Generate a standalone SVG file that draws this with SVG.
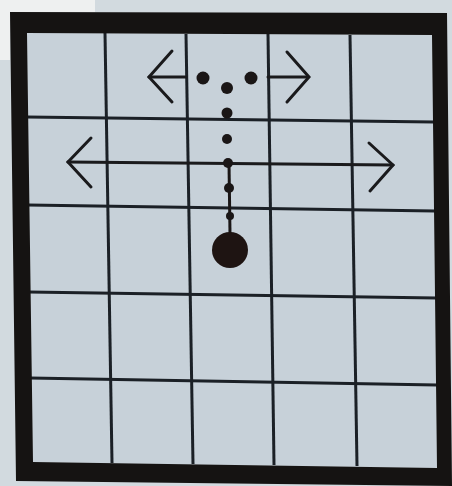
<svg xmlns="http://www.w3.org/2000/svg" width="452" height="486" viewBox="0 0 452 486">
  <style>
    .grid { stroke: #1b2026; stroke-width: 3; stroke-linecap: butt; fill: none; }
    .arrow { stroke: #1a1a1c; stroke-width: 3; fill: none; stroke-linecap: round; stroke-linejoin: miter; }
    .dot { fill: #1a1616; }
    .stem { stroke: #1a1616; stroke-width: 3; fill: none; }
  </style>
  <g id="background">
    <rect x="0" y="0" width="452" height="486" fill="#d2dadf"/>
    <path d="M0,0 H95 V12 H10 V60 H0 Z" fill="#eef0f0"/>
  </g>
  <g id="board">
    <polygon points="27,33 432,35 437,468 33,462" fill="#c7d1d9"/>
  </g>
  <g id="grid-lines" class="grid">
    <line x1="105" y1="33" x2="112" y2="463"/>
    <line x1="186" y1="34" x2="193" y2="464"/>
    <line x1="268" y1="34" x2="274" y2="465"/>
    <line x1="350" y1="35" x2="357" y2="466"/>
    <line x1="27" y1="117" x2="434" y2="122"/>
    <line x1="28" y1="205" x2="435" y2="211"/>
    <line x1="29" y1="292" x2="436" y2="298"/>
    <line x1="30" y1="378" x2="437" y2="385"/>
  </g>
  <g id="border">
    <path fill-rule="evenodd" fill="#151312" d="M10,12 L447,13 L452,486 L16,481 Z M27,33 L432,35 L437,468 L33,462 Z"/>
  </g>
  <g id="connectors">
    <g id="arrow-top-left" class="arrow">
      <line x1="149" y1="77" x2="186" y2="77"/>
      <polyline points="172,51 149,77 172,102"/>
    </g>
    <g id="arrow-top-right" class="arrow">
      <line x1="268" y1="77" x2="308" y2="77"/>
      <polyline points="287,52 309,77 287,102"/>
    </g>
    <g id="arrow-middle" class="arrow">
      <line x1="68" y1="162" x2="393" y2="165"/>
      <polyline points="91,138 68,162 91,187"/>
      <polyline points="369,143 393,165 370,191"/>
    </g>
    <line id="stem" class="stem" x1="229" y1="163" x2="230" y2="234"/>
  </g>
  <g id="dots">
    <circle id="dot-top-left" class="dot" cx="203" cy="78" r="6.5"/>
    <circle id="dot-top-right" class="dot" cx="251" cy="78" r="6.5"/>
    <circle id="dot-1" class="dot" cx="227" cy="88" r="6"/>
    <circle id="dot-2" class="dot" cx="227" cy="113" r="5.5"/>
    <circle id="dot-3" class="dot" cx="227" cy="139" r="5"/>
    <circle id="dot-4" class="dot" cx="228" cy="163" r="5"/>
    <circle id="dot-5" class="dot" cx="229" cy="188" r="5"/>
    <circle id="dot-6" class="dot" cx="230" cy="216" r="4"/>
    <circle id="dot-big" cx="230" cy="250" r="18" fill="#1e1412"/>
  </g>
</svg>
